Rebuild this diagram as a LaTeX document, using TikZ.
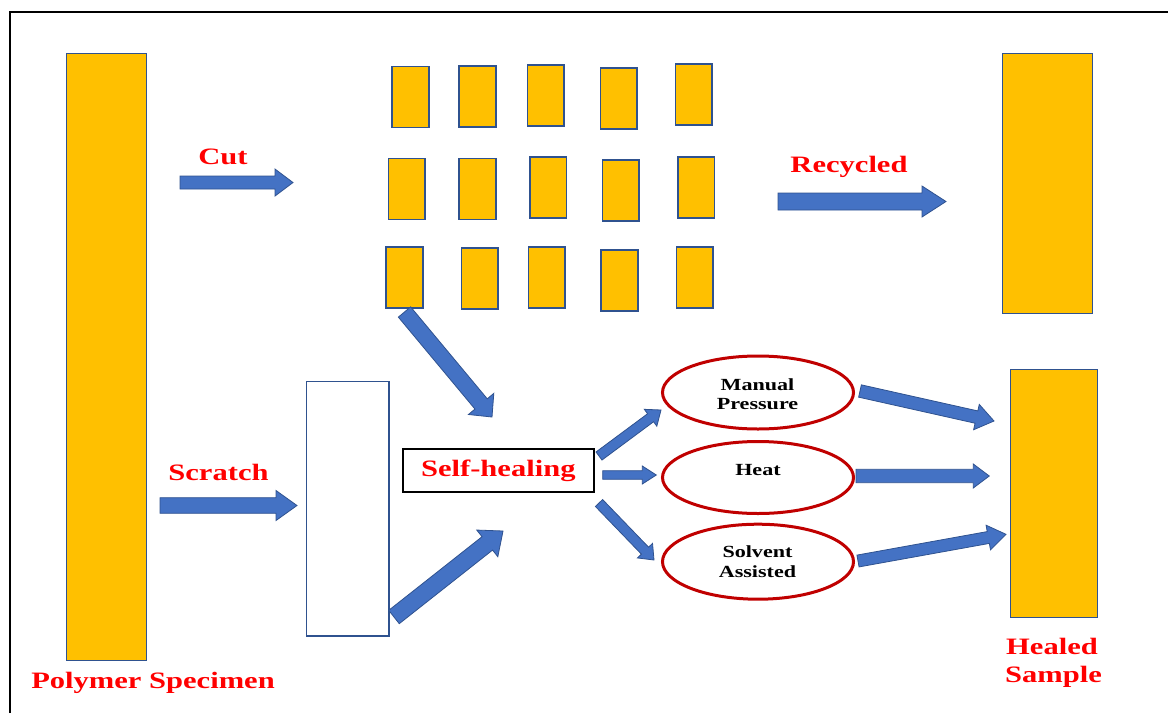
\documentclass[tikz,border=0pt]{standalone}
\usepackage{fontspec}
\setmainfont{Liberation Serif}
\usepackage{graphicx}
\usetikzlibrary{calc,shapes.geometric}

\definecolor{barfill}{HTML}{FFC000}
\definecolor{barline}{HTML}{2F528F}
\definecolor{arrowfill}{HTML}{4472C4}
\definecolor{ellline}{HTML}{C00000}
\definecolor{labelred}{HTML}{FF0000}

% horizontally widened lettering
\newcommand\wide[1]{\scalebox{1.3}[1]{#1}}

% block arrow: tail, tip, half shaft width, half head width, head length
\newcommand\blockarrow[5]{%
  \coordinate (abase) at ($(#2)!#5!(#1)$);
  \filldraw[arrowbody]
    ($(#1)!#3!90:(#2)$) -- ($(abase)!#3!90:(#2)$) -- ($(abase)!#4!90:(#2)$) -- (#2)
    -- ($(abase)!#4!-90:(#2)$) -- ($(abase)!#3!-90:(#2)$) -- ($(#1)!#3!-90:(#2)$) -- cycle;}

\tikzset{
  arrowbody/.style={fill=arrowfill, draw=barline, line width=0.8pt, line join=miter},
  yellowbar/.style={draw=barline, fill=barfill, line width=1.3pt, inner sep=0pt, anchor=north west},
  cutpiece/.style={yellowbar, line width=1.6pt, minimum width=36.7pt, minimum height=61pt},
  bigtext/.style={text=labelred, font=\fontsize{23.5}{28}\selectfont\bfseries, inner sep=0pt},
  smalltext/.style={text=black, font=\fontsize{17}{20}\selectfont\bfseries, inner sep=0pt, align=center},
  method/.style={ellipse, draw=ellline, line width=3pt, inner sep=0pt, minimum width=191pt, minimum height=73pt},
}

\begin{document}
\begin{tikzpicture}[x=1pt, y=-1pt]
\useasboundingbox (0,0) rectangle (1168,713);

% frame
\draw[line width=2pt] (10,713) -- (10,12) -- (1168,12);

% specimens
\node[yellowbar, minimum width=80pt, minimum height=607pt] (polymer) at (66,53) {};
\node[yellowbar, minimum width=90pt, minimum height=260pt] (recycled) at (1002,53) {};
\node[yellowbar, minimum width=87pt, minimum height=248pt] (healed) at (1010,369) {};
\node[yellowbar, fill=white, line width=1.2pt, minimum width=82.6pt, minimum height=254.6pt] (scratched) at (305.7,380.7) {};

% cut pieces
\foreach \px/\py [count=\i] in {391.3/65.7, 458.3/65, 526.7/64, 599.7/67, 674.7/63.3,
                                387.7/157.7, 458.3/157.7, 529/156.3, 601.7/159.3, 677/156,
                                385.3/246, 460.7/247, 527.7/246.3, 600.3/249.3, 675.7/246}
  \node[cutpiece] (piece\i) at (\px,\py) {};

% labels
\node[bigtext, anchor=base] (lpolymer) at (153,688) {\wide{Polymer Specimen}};
\node[bigtext, anchor=base] (lcut) at (223,164) {\wide{Cut}};
\node[bigtext, anchor=base] (lrecycled) at (849,172.7) {\wide{Recycled}};
\node[bigtext, anchor=base] (lscratch) at (218.5,480) {\wide{Scratch}};
\node[bigtext, anchor=base west] (lhealed) at (1006,654.3) {\wide{Healed}};
\node[bigtext, anchor=base west] (lsample) at (1005,682) {\wide{Sample}};

% self-healing box
\node[draw=black, line width=2pt, minimum width=191pt, minimum height=43pt, inner sep=0pt,
      text=labelred, font=\fontsize{23.5}{28}\selectfont\bfseries] (selfheal) at (498.3,470.4) {\wide{Self-healing}};

% healing methods
\node[method] (manual) at (758,392.5) {};
\node[method, minimum height=72pt] (heat) at (758,477.5) {};
\node[method, minimum height=75pt] (solvent) at (758,561.7) {};
\node[smalltext, anchor=base] (lmanual) at (757.5,390) {\wide{Manual}};
\node[smalltext, anchor=base] (lpressure) at (757.5,409.5) {\wide{Pressure}};
\node[smalltext, anchor=base] (lheat) at (758,475) {\wide{Heat}};
\node[smalltext, anchor=base] (lsolvent) at (757.5,557) {\wide{Solvent}};
\node[smalltext, anchor=base] (lassisted) at (757.5,577.7) {\wide{Assisted}};

% arrow end points
\coordinate (cutT) at (180,182.5);      \coordinate (cutH) at (293,182.5);
\coordinate (recT) at (778,201.5);      \coordinate (recH) at (946,201.5);
\coordinate (scrT) at (160,505.5);      \coordinate (scrH) at (297,505.5);
\coordinate (pieT) at (404.5,312);      \coordinate (pieH) at (492,417);
\coordinate (rectT) at (394,617);       \coordinate (rectH) at (503,531);
\coordinate (shmT) at (599,456);        \coordinate (shmH) at (661,410);
\coordinate (shhT) at (602.7,475);      \coordinate (shhH) at (656.3,475);
\coordinate (shsT) at (599,503);        \coordinate (shsH) at (654,560);
\coordinate (manT) at (860,391);        \coordinate (manH) at (994,421);
\coordinate (heaT) at (856,476);        \coordinate (heaH) at (989.3,476);
\coordinate (solT) at (858,561);        \coordinate (solH) at (1006,534.3);

% arrows
\blockarrow{cutT}{cutH}{6.5pt}{13.5pt}{18pt}
\blockarrow{recT}{recH}{8.5pt}{15.5pt}{24pt}
\blockarrow{scrT}{scrH}{7.8pt}{15pt}{21pt}
\blockarrow{pieT}{pieH}{8pt}{16.5pt}{17pt}
\blockarrow{rectT}{rectH}{8.5pt}{17pt}{20pt}
\blockarrow{shmT}{shmH}{5pt}{10.5pt}{13pt}
\blockarrow{shhT}{shhH}{4.3pt}{9pt}{14pt}
\blockarrow{shsT}{shsH}{5pt}{10.5pt}{13pt}
\blockarrow{manT}{manH}{6.3pt}{13pt}{18pt}
\blockarrow{heaT}{heaH}{6.7pt}{12pt}{16pt}
\blockarrow{solT}{solH}{6pt}{12.5pt}{18pt}
\end{tikzpicture}
\end{document}
